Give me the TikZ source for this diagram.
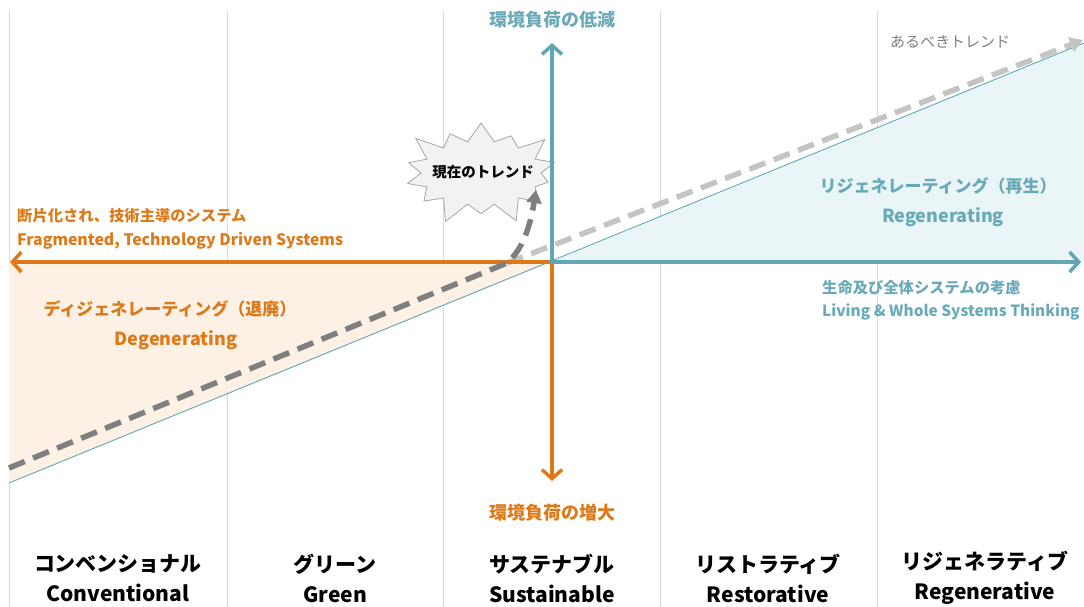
\documentclass[tikz,border=0pt]{standalone}
\usepackage{fontspec}
\setmainfont{Noto Sans CJK JP}
\usetikzlibrary{arrows.meta,shapes.symbols}
\definecolor{orng}{HTML}{DC7A1A}
\definecolor{teal2}{HTML}{62A6B4}
\definecolor{tealtxt}{HTML}{6AAAB8}
\definecolor{orngfill}{HTML}{FDF1E6}
\definecolor{tealfill}{HTML}{E9F5F6}
\definecolor{gridc}{HTML}{DADADA}
\definecolor{dgray}{HTML}{7F7F7F}
\definecolor{lgray}{HTML}{C4C4C4}
\tikzset{
  gridline/.style={draw=gridc,line width=0.8pt},
  axisor/.style={draw=orng,line width=4pt,line cap=round,-{Straight Barb[length=9pt,width=20pt,line width=3.5pt]}},
  axistl/.style={draw=teal2,line width=4pt,line cap=round,-{Straight Barb[length=9pt,width=20pt,line width=3.5pt]}},
  trenddark/.style={draw=dgray,line width=5.5pt,dash pattern=on 17pt off 9pt,-{Triangle[length=13pt,width=15pt]}},
  trendlight/.style={draw=lgray,line width=5.5pt,dash pattern=on 17pt off 9pt,-{Triangle[length=13pt,width=15pt]}},
  lbl/.style={font=\fontsize{#1}{#1}\selectfont\bfseries,inner sep=0pt},
  bottomlbl/.style={font=\fontsize{21}{30}\selectfont\bfseries,text=black,align=center,inner sep=0pt},
}
\begin{document}
\begin{tikzpicture}[x=1pt,y=-1pt]
\useasboundingbox (0,0) rectangle (1084,607);
% grid lines
\foreach \gx/\nm in {9/g1,227/g2,443/g3,660/g4,877/g5}{
  \coordinate (\nm t) at (\gx,10);
  \coordinate (\nm b) at (\gx,607);
  \draw[gridline] (\nm t) -- (\nm b);
}
% key coordinates
\coordinate (O) at (552,262);
\coordinate (Lend) at (10,262);
\coordinate (Rend) at (1081,262);
\coordinate (Tend) at (552,43);
\coordinate (Bend) at (552,481);
\coordinate (LL) at (9,483);
\coordinate (LU) at (9,262);
\coordinate (RU) at (1084,43);
\coordinate (RL) at (1084,262);
% fills
\fill[orngfill] (LU) -- (O) -- (LL) -- cycle;
\fill[tealfill] (O) -- (RL) -- (RU) -- cycle;
% thin diagonal
\draw[teal2,line width=0.9pt] (LL) -- (RU);
% starburst
\node[starburst,starburst points=14,starburst point height=25pt,draw=gray!70,fill=gray!10,line width=0.8pt,minimum width=170pt,minimum height=114pt,inner sep=0pt] (burst) at (481,173) {};
\node[lbl=14.5,text=black] (cur) at (483,172) {現在のトレンド};
% trends
\coordinate (D0) at (9,468);
\coordinate (DJ) at (507,263);
\coordinate (DT) at (536,190);
\coordinate (GT) at (1083,40);
\draw[trendlight] (DJ) -- (GT);
% axes
\draw[axisor] (O) -- (Lend);
\draw[axisor] (O) -- (Bend);
\draw[axistl] (O) -- (Rend);
\draw[axistl] (O) -- (Tend);
\draw[trenddark] (D0) -- (DJ) .. controls (522,250) and (530,228) .. (DT);
% axis texts
\node[lbl=18,text=tealtxt] (top) at (552,20) {環境負荷の低減};
\node[lbl=18,text=orng] (bot) at (552,513) {環境負荷の増大};
\node[lbl=15.3,text=orng,anchor=west] (frag1) at (17,216) {断片化され、技術主導のシステム};
\node[lbl=15.8,text=orng,anchor=west] (frag2) at (17,241) {Fragmented, Technology Driven Systems};
\node[lbl=17,text=orng] (deg1) at (170,309) {ディジェネレーティング（退廃）};
\node[lbl=18,text=orng] (deg2) at (176,340) {Degenerating};
\node[lbl=17,text=tealtxt] (reg1) at (938,186) {リジェネレーティング（再生）};
\node[lbl=18,text=tealtxt] (reg2) at (943,217) {Regenerating};
\node[lbl=15.3,text=tealtxt,anchor=west] (liv1) at (822,288) {生命及び全体システムの考慮};
\node[lbl=15.4,text=tealtxt,anchor=west] (liv2) at (822,312) {Living \& Whole Systems Thinking};
\node[font=\fontsize{15}{15}\selectfont,text=dgray,inner sep=0pt] (should) at (950,42) {あるべきトレンド};
% bottom labels
\node[bottomlbl] (c1) at (118,578) {コンベンショナル\\Conventional};
\node[bottomlbl] (c2) at (335,578) {グリーン\\Green};
\node[bottomlbl] (c3) at (552,578) {サステナブル\\Sustainable};
\node[bottomlbl] (c4) at (768,578) {リストラティブ\\Restorative};
\node[bottomlbl] (c5) at (985,578) {リジェネラティブ\\Regenerative};
\end{tikzpicture}
\end{document}
